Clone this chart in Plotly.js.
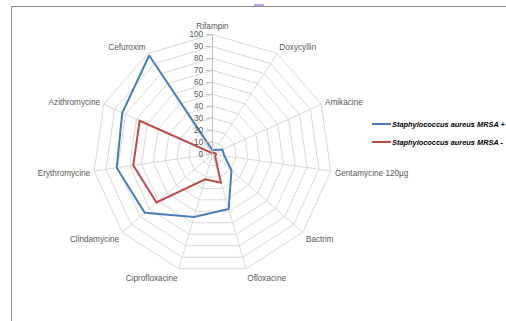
<!DOCTYPE html>
<html>
<head>
<meta charset="utf-8">
<script src="https://cdn.plot.ly/plotly-3.0.1.min.js"></script>
<style>
  html, body { margin: 0; padding: 0; background: #fff; }
  #chart { width: 506px; height: 321px; }
</style>
</head>
<body>
<div id="chart"></div>
<script>
// Antibiotic resistance profile, % of isolates
const categories = ['Rifampin', 'Doxycyllin', 'Amikacine', 'Gentamycine 120µg', 'Bactrim',
  'Ofloxacine', 'Ciprofloxacine', 'Clindamycine', 'Erythromycine', 'Azithromycine', 'Cefuroxim'];
const mrsaPos = [3, 4, 9, 10, 21, 48, 55, 75, 81, 83, 98];
const mrsaNeg = [1, 1, 2, 3, 3, 25, 22, 62, 67, 67, 1];
const seriesNames = ['Staphylococcus aureus MRSA +', 'Staphylococcus aureus MRSA -'];
const seriesColors = ['#4a7ebb', '#be4b48'];
const radialTicks = [0, 10, 20, 30, 40, 50, 60, 70, 80, 90, 100];

// close each polygon by repeating the first spoke
const closed = arr => arr.concat([arr[0]]);

const traces = [mrsaPos, mrsaNeg].map((vals, i) => ({
  type: 'scatterpolar',
  mode: 'lines',
  r: closed(vals),
  theta: closed(categories),
  name: seriesNames[i],
  line: { color: seriesColors[i], width: 2 },
  showlegend: false,
  hoverinfo: 'skip'
}));

const W = 506, H = 321;
const cx = 212.5, cy = 154, rad = 119.5;

const fontFace = '"Liberation Sans", Arial, sans-serif';

// hand-built legend: short line sample + bold italic name
const legendShapes = [], legendNotes = [];
const legendY = [124, 142];
seriesNames.forEach((nm, i) => {
  legendShapes.push({
    type: 'line', xref: 'paper', yref: 'paper',
    x0: 372 / W, x1: 391 / W, y0: 1 - legendY[i] / H, y1: 1 - legendY[i] / H,
    line: { color: seriesColors[i], width: 2 }
  });
  legendNotes.push({
    xref: 'paper', yref: 'paper', x: 389.5 / W, y: 1 - legendY[i] / H,
    xanchor: 'left', yanchor: 'middle', showarrow: false, text: nm,
    font: { family: fontFace, size: 7.4, color: '#000', weight: 'bold', style: 'italic' }
  });
});

const layout = {
  width: W, height: H,
  margin: { l: 0, r: 0, t: 0, b: 0 },
  paper_bgcolor: '#fff',
  showlegend: false,
  font: { family: fontFace, size: 8.2, color: '#595959' },
  polar: {
    domain: { x: [(cx - rad) / W, (cx + rad) / W], y: [(H - cy - rad) / H, (H - cy + rad) / H] },
    bgcolor: '#fff',
    gridshape: 'linear',
    angularaxis: {
      type: 'category',
      categoryarray: categories,
      direction: 'clockwise',
      rotation: 90,
      showline: true,
      linecolor: '#d9d9d9',
      linewidth: 1,
      gridcolor: '#d9d9d9',
      ticks: 'outside',
      ticklen: 2,
      tickcolor: 'rgba(0,0,0,0)',
      tickfont: { family: fontFace, size: 8.2, color: '#595959' }
    },
    radialaxis: {
      range: [0, 100],
      tickvals: radialTicks,
      angle: 90,
      side: 'counterclockwise',
      showline: true,
      linecolor: '#bfbfbf',
      linewidth: 1,
      gridcolor: '#d9d9d9',
      ticks: 'outside',
      ticklen: 6,
      tickcolor: '#bfbfbf',
      tickangle: 90,
      tickfont: { family: fontFace, size: 8.2, color: '#595959' }
    }
  },
  shapes: [
    // chart frame (top and left edges)
    { type: 'line', xref: 'paper', yref: 'paper', x0: 11.5 / W, x1: 1, y0: 1 - 6.5 / H, y1: 1 - 6.5 / H,
      line: { color: '#8c8c8c', width: 1 } },
    { type: 'line', xref: 'paper', yref: 'paper', x0: 11.5 / W, x1: 11.5 / W, y0: 0, y1: 1 - 6.5 / H,
      line: { color: '#8c8c8c', width: 1 } },
    { type: 'line', xref: 'paper', yref: 'paper', x0: 254 / W, x1: 264 / W, y0: 1 - 5 / H, y1: 1 - 5 / H,
      line: { color: '#8f8ff0', width: 1.5 } }
  ].concat(legendShapes),
  annotations: legendNotes
};

Plotly.newPlot('chart', traces, layout, { displayModeBar: false, staticPlot: true });
</script>
</body>
</html>
